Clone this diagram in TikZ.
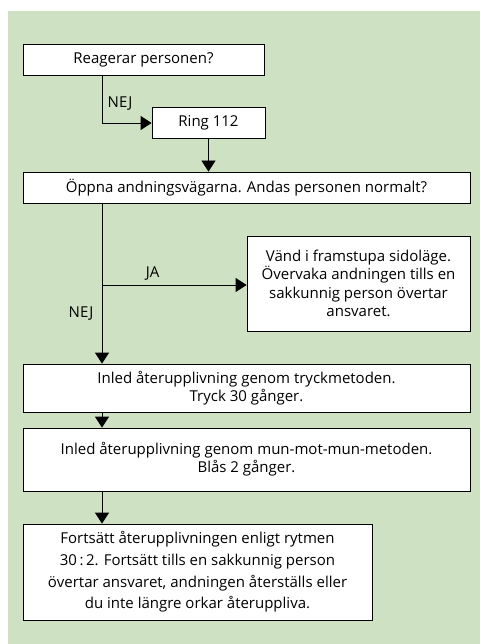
\documentclass[tikz,border=0pt]{standalone}
\usepackage{fontspec}
\setmainfont{Open Sans}
\usepackage{tikz}
\usetikzlibrary{positioning, calc, arrows.meta}
\tikzset{
	stepbox/.style={draw=black, line width=0.8pt, fill=white, align=center, inner sep=0pt,
		font=\fontsize{15pt}{18.3pt}\selectfont},
	flow/.style={line width=0.8pt, -{Triangle[width=14pt,length=11pt]}},
	lbl/.style={font=\fontsize{15pt}{16pt}\selectfont},
}
\definecolor{BgGreen}{RGB}{207, 225, 195}

\begin{document}
\begin{tikzpicture}[x=1pt,y=-1pt]
		\useasboundingbox (0,0) rectangle (480,644);
		\fill[BgGreen] (8,11) rectangle (480,644);

		\node[stepbox, minimum width=241pt, minimum height=31pt] (reagerar) at (143.5,59.5) {Reagerar personen?};
		\node[stepbox, minimum width=113pt, minimum height=31pt] (ring) at (208.5,123) {Ring 112};
		\node[stepbox, minimum width=447pt, minimum height=31pt] (oppna) at (246.5,187.5) {Öppna andningsvägarna. Andas personen normalt?};
		\node[stepbox, minimum width=223pt, minimum height=95pt] (vand) at (358.5,283.5)
			{Vänd i framstupa sidoläge.\\Övervaka andningen tills en\\sakkunnig person övertar\\ansvaret.};
		\node[stepbox, minimum width=447pt, minimum height=48pt] (tryck) at (246.5,388)
			{Inled återupplivning genom tryckmetoden.\\Tryck 30 gånger.};
		\node[stepbox, minimum width=447pt, minimum height=63pt] (blas) at (246.5,459.5)
			{Inled återupplivning genom mun-mot-mun-metoden.\\Blås 2 gånger.};
		\node[stepbox, minimum width=349pt, minimum height=96pt, font=\fontsize{15pt}{21.7pt}\selectfont] (fortsatt) at (197.5,572)
			{Fortsätt återupplivningen enligt rytmen\\30\,:\,2. Fortsätt tills en sakkunnig person\\övertar ansvaret, andningen återställs eller\\du inte längre orkar återuppliva.};

		\coordinate (split) at (102,285);

		\draw[flow] (reagerar.south -| split) |- (ring.west) node[lbl, pos=0.3, right=2pt] (nej1) {NEJ};
		\draw[flow] (ring.south) -- (ring.south |- oppna.north);
		\draw[line width=0.8pt] (oppna.south -| split) -- (split);
		\draw[flow] (split) -- (split -| vand.west) node[lbl, pos=0.35, above=1pt] (ja) {JA};
		\draw[flow] (split) -- (tryck.north -| split) node[lbl, pos=0.36, left=5pt] (nej2) {NEJ};
		\draw[flow] (tryck.south -| split) -- (blas.north -| split);
		\draw[flow] (blas.south -| split) -- (fortsatt.north -| split);
	\end{tikzpicture}
\end{document}
